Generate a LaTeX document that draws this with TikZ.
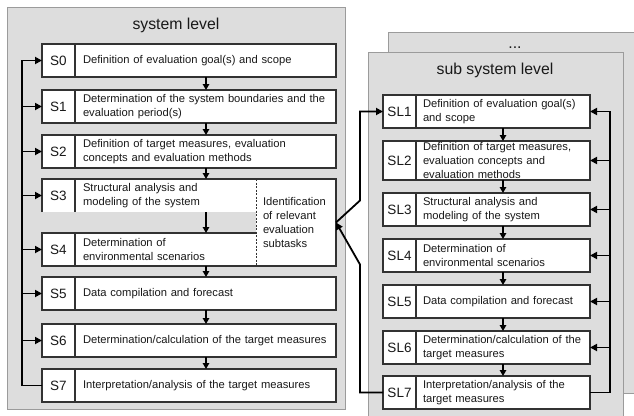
\documentclass[tikz,border=0pt]{standalone}
\usepackage{fontspec}
\setmainfont{Liberation Sans}
\usetikzlibrary{arrows.meta,calc,positioning}
\definecolor{panelfill}{RGB}{221,221,221}
\definecolor{paneldraw}{RGB}{155,155,155}
\definecolor{boxdraw}{RGB}{50,50,50}
\tikzset{
    panel/.style={fill=panelfill, draw=paneldraw, line width=1pt},
    title/.style={font=\fontsize{15.8}{19}\selectfont, inner sep=0pt, text=black!90},
    cell/.style={fill=white, draw=boxdraw, line width=1.1pt, anchor=north west,
        outer sep=0pt, inner ysep=0pt, text=black!90, font=\fontsize{11.2}{14.2}\selectfont},
    lab/.style={cell, minimum width=33pt, inner xsep=0pt, minimum height=#1,
        font=\fontsize{13.5}{16}\selectfont},
    lab/.default=33pt,
    desc/.style={cell, align=left, inner xsep=8pt, text width=245pt, minimum height=#1},
    desc/.default=33pt,
    subdesc/.style={cell, align=left, inner xsep=7pt, text width=160pt, minimum height=#1},
    subdesc/.default=33pt,
    edge/.style={draw=boxdraw, line width=1.1pt},
    down/.style={-{Triangle[length=6pt,width=6.5pt]}, line width=1.3pt},
    back/.style={-{Triangle[length=7pt,width=7pt]}, line width=1.8pt, line join=miter}
}
\begin{document}
\begin{tikzpicture}[x=1pt, y=-1pt]
    \useasboundingbox (0,0) rectangle (634,415);
    \clip (0,0) rectangle (634,415);
    % panels
    \draw[panel] (7,7) rectangle (345,409);
    \draw[panel] (388,32) rectangle (660,393);
    \draw[panel] (368,52) rectangle (623,440);
    \node[title, anchor=base] (sys) at (176,29) {system level};
    \node[title, anchor=base] (dots) at (515,48) {...};
    \node[title, anchor=base] (sub) at (495,74) {sub system level};
    % arrow columns
    \coordinate (ax) at (206,0);
    \coordinate (fx) at (22,0);
    \coordinate (bx) at (503,0);
    \coordinate (lx) at (360,0);
    \coordinate (rx) at (610,0);

    % system level steps
    \node[lab] (s0) at (42,44) {S0};
    \node[desc, right=0pt of s0] (s0t) {Definition of evaluation goal(s) and scope};
    \node[lab] (s1) at (42,90) {S1};
    \node[desc, right=0pt of s1] (s1t) {Determination of the system boundaries and the\\evaluation period(s)};
    \node[lab] (s2) at (42,135) {S2};
    \node[desc, right=0pt of s2] (s2t) {Definition of target measures, evaluation\\concepts and evaluation methods};
    \node[lab, draw=none] (s3) at (42,179) {S3};
    \node[desc, draw=none, text width=165pt, right=0pt of s3] (s3t) {Structural analysis and\\modeling of the system};
    \node[lab, draw=none] (s4) at (42,233) {S4};
    \node[desc, draw=none, text width=165pt, right=0pt of s4] (s4t) {Determination of\\environmental scenarios};
    \node[cell, draw=none, align=left, inner xsep=7pt, text width=66pt, minimum height=87pt] (id) at (s3t.north east) {Identification\\of relevant\\evaluation\\subtasks};
    \draw[edge] (s3.south west) -- (s3.north west) -- (id.north east) -- (id.south east)
        -- (s4.south west) -- (s4.north west) -- (s4t.north east);
    \draw[edge] (s3.north east) -- (s3.south east) (s4.north east) -- (s4.south east);
    \draw[edge, line width=0.8pt, dash pattern=on 2pt off 1.5pt] (id.north west) -- (id.south west);
    \node[lab] (s5) at (42,277) {S5};
    \node[desc, right=0pt of s5] (s5t) {Data compilation and forecast};
    \node[lab] (s6) at (42,324) {S6};
    \node[desc, right=0pt of s6] (s6t) {Determination/calculation of the target measures};
    \node[lab] (s7) at (42,369) {S7};
    \node[desc, right=0pt of s7] (s7t) {Interpretation/analysis of the target measures};

    \draw[down] (s0.south -| ax) -- (s1.north -| ax);
    \draw[down] (s1.south -| ax) -- (s2.north -| ax);
    \draw[down] (s2.south -| ax) -- (s3.north -| ax);
    \draw[down] (s3.south -| ax) -- (s4.north -| ax);
    \draw[down] (s4.south -| ax) -- (s5.north -| ax);
    \draw[down] (s5.south -| ax) -- (s6.north -| ax);
    \draw[down] (s6.south -| ax) -- (s7.north -| ax);

    \draw[back] (s7.west) -- (s7.west -| fx) |- (s0.west);
    \draw[back] (s1.west -| fx) -- (s1.west);
    \draw[back] (s2.west -| fx) -- (s2.west);
    \draw[back] (s3.west -| fx) -- (s3.west);
    \draw[back] (s4.west -| fx) -- (s4.west);
    \draw[back] (s5.west -| fx) -- (s5.west);
    \draw[back] (s6.west -| fx) -- (s6.west);

    % sub system level steps
    \node[lab] (sl1) at (383,95) {SL1};
    \node[subdesc, right=0pt of sl1] (sl1t) {Definition of evaluation goal(s)\\and scope};
    \node[lab=39pt] (sl2) at (383,141) {SL2};
    \node[subdesc=39pt, right=0pt of sl2] (sl2t) {Definition of target measures,\\evaluation concepts and\\evaluation methods};
    \node[lab] (sl3) at (383,193) {SL3};
    \node[subdesc, right=0pt of sl3] (sl3t) {Structural analysis and\\modeling of the system};
    \node[lab] (sl4) at (383,239) {SL4};
    \node[subdesc, right=0pt of sl4] (sl4t) {Determination of\\environmental scenarios};
    \node[lab] (sl5) at (383,285) {SL5};
    \node[subdesc, right=0pt of sl5] (sl5t) {Data compilation and forecast};
    \node[lab] (sl6) at (383,331) {SL6};
    \node[subdesc, right=0pt of sl6] (sl6t) {Determination/calculation of the\\target measures};
    \node[lab] (sl7) at (383,376) {SL7};
    \node[subdesc, right=0pt of sl7] (sl7t) {Interpretation/analysis of the\\target measures};

    \draw[down] (sl1.south -| bx) -- (sl2.north -| bx);
    \draw[down] (sl2.south -| bx) -- (sl3.north -| bx);
    \draw[down] (sl3.south -| bx) -- (sl4.north -| bx);
    \draw[down] (sl4.south -| bx) -- (sl5.north -| bx);
    \draw[down] (sl5.south -| bx) -- (sl6.north -| bx);
    \draw[down] (sl6.south -| bx) -- (sl7.north -| bx);

    \draw[back] (sl7t.east) -- (sl7t.east -| rx) |- (sl1t.east);
    \draw[back] (sl2t.east -| rx) -- (sl2t.east);
    \draw[back] (sl3t.east -| rx) -- (sl3t.east);
    \draw[back] (sl4t.east -| rx) -- (sl4t.east);
    \draw[back] (sl5t.east -| rx) -- (sl5t.east);
    \draw[back] (sl6t.east -| rx) -- (sl6t.east);

    % between the two levels
    \draw[back] (id.east) -- ($(id.east -| lx)+(0,-22)$) |- (sl1.west);
    \draw[back] (sl7.west) -- (sl7.west -| lx) -- ($(id.east -| lx)+(0,42)$) -- (id.east);
\end{tikzpicture}
\end{document}
